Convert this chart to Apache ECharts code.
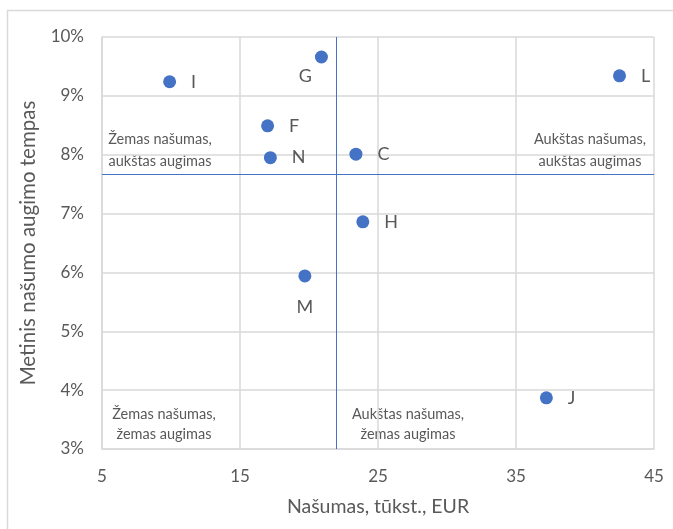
<!DOCTYPE html>
<html><head><meta charset="utf-8">
<script src="https://cdn.jsdelivr.net/npm/echarts@6/dist/echarts.min.js"></script>
<style>html,body{margin:0;padding:0;background:#fff}#c{width:673px;height:529px}</style>
</head><body><div id="c"></div>
<script>
const names = ['I','G','L','F','N','C','H','M','J'];
const productivity = [9.9, 20.9, 42.5, 17.0, 17.2, 23.4, 23.9, 19.7, 37.2];
const growth = [0.0924, 0.0966, 0.0934, 0.0849, 0.0795, 0.0801, 0.0686, 0.0594, 0.0387];
const refX = 22;
const refY = 0.0766;
const xTicks = [5, 15, 25, 35, 45];
const yTicks = ['3%','4%','5%','6%','7%','8%','9%','10%'];

const FONT = 'Lato, "Open Sans", sans-serif';
const TXT = '#595959';

const data = names.map((n, i) => {
  const d = {name: n, value: [productivity[i], growth[i]]};
  if (n === 'G') d.label = {position: 'bottom', distance: 4, offset: [-16, 0]};
  if (n === 'M') d.label = {position: 'bottom', distance: 16};
  return d;
});

const chart = echarts.init(document.getElementById('c'), null, {renderer: 'canvas'});
chart.setOption({
  animation: false,
  textStyle: {fontFamily: FONT},
  grid: {left: 102, right: 19, top: 37, bottom: 80, containLabel: false},
  xAxis: {
    type: 'value', min: 5, max: 45, interval: 10,
    name: 'Našumas, tūkst., EUR', nameLocation: 'middle', nameGap: 48,
    nameTextStyle: {color: TXT, fontSize: 19.5, fontFamily: FONT},
    axisLine: {show: true, lineStyle: {color: '#d9d9d9', width: 1.5}},
    axisTick: {show: false},
    axisLabel: {color: TXT, fontSize: 17, margin: 19, fontFamily: FONT,
      formatter: v => xTicks.includes(v) ? String(v) : ''},
    splitLine: {show: true, lineStyle: {color: '#d9d9d9', width: 1.5}}
  },
  yAxis: {
    type: 'value', min: 0.03, max: 0.10, interval: 0.01,
    name: 'Metinis našumo augimo tempas', nameLocation: 'middle', nameGap: 63,
    nameTextStyle: {color: TXT, fontSize: 20.5, fontFamily: FONT},
    axisLine: {show: true, lineStyle: {color: '#d9d9d9', width: 1.5}},
    axisTick: {show: false},
    axisLabel: {color: TXT, fontSize: 17, margin: 18, fontFamily: FONT,
      formatter: v => yTicks[Math.round(v * 100) - 3] || ''},
    splitLine: {show: true, lineStyle: {color: '#d9d9d9', width: 1.5}}
  },
  series: [{
    type: 'scatter',
    symbolSize: 13,
    itemStyle: {color: '#4472C4', opacity: 1},
    label: {show: true, position: 'right', distance: 15, formatter: '{b}',
      color: TXT, fontSize: 18, fontFamily: FONT},
    data: data,
    markLine: {
      silent: true, symbol: ['none', 'none'], label: {show: false},
      lineStyle: {color: '#4472C4', width: 1, type: 'solid'},
      data: [
        [{coord: [refX, 0.03]}, {coord: [refX, 0.10]}],
        [{coord: [5, refY]}, {coord: [45, refY]}]
      ]
    }
  }],
  graphic: [
    {type: 'rect', left: 5, top: 8, shape: {width: 700, height: 540},
     style: {fill: 'none', stroke: '#d9d9d9', lineWidth: 1.5}, silent: true},
    {type: 'text', x: 160, y: 128, style: {text: 'Žemas našumas,\naukštas augimas',
      fill: TXT, font: '14.5px ' + FONT, align: 'center', lineHeight: 22}},
    {type: 'text', x: 590, y: 128, style: {text: 'Aukštas našumas,\naukštas augimas',
      fill: TXT, font: '14.5px ' + FONT, align: 'center', lineHeight: 22}},
    {type: 'text', x: 164, y: 404, style: {text: 'Žemas našumas,\nžemas augimas',
      fill: TXT, font: '14.5px ' + FONT, align: 'center', lineHeight: 20}},
    {type: 'text', x: 408, y: 404, style: {text: 'Aukštas našumas,\nžemas augimas',
      fill: TXT, font: '14.5px ' + FONT, align: 'center', lineHeight: 20}}
  ]
});
</script></body></html>
